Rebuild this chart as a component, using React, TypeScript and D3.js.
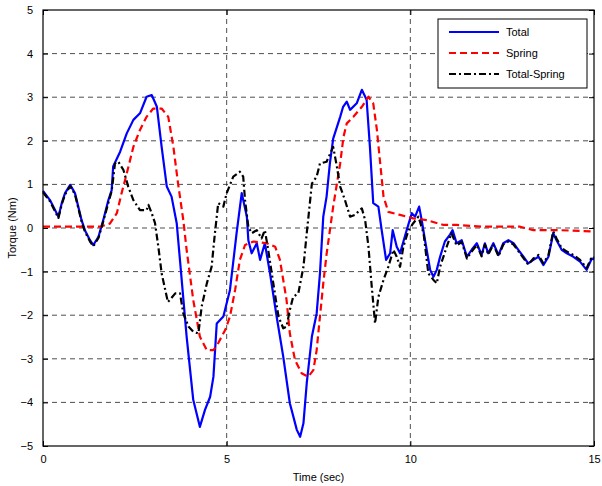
import * as d3 from "d3";
import React, { useEffect, useRef } from "react";

// [time (sec), torque (Nm)]
const totalTorque: [number, number][] = [
  [0, 0.85], [0.19, 0.64], [0.42, 0.26], [0.51, 0.57], [0.6, 0.8], [0.74, 0.99], [0.87, 0.8],
  [0.96, 0.49], [1.05, 0.18], [1.14, -0.05], [1.28, -0.28], [1.37, -0.39], [1.51, -0.2],
  [1.64, 0.18], [1.78, 0.64], [1.87, 0.87], [1.91, 1.41], [2.1, 1.75], [2.28, 2.17],
  [2.46, 2.48], [2.64, 2.63], [2.82, 3.01], [2.96, 3.05], [3.1, 2.78], [3.23, 1.86],
  [3.37, 0.95], [3.5, 0.72], [3.64, 0.11], [3.73, -0.75], [3.91, -2.49], [4.09, -3.94],
  [4.27, -4.56], [4.41, -4.17], [4.55, -3.87], [4.64, -3.41], [4.73, -2.19], [4.91, -2.03],
  [5.09, -1.42], [5.27, -0.12], [5.41, 0.8], [5.55, 0.26], [5.59, -0.28], [5.68, -0.58],
  [5.82, -0.35], [5.91, -0.73], [6.04, -0.35], [6.18, -1.04], [6.36, -2.03], [6.54, -2.95],
  [6.72, -4.02], [6.91, -4.63], [7.0, -4.79], [7.09, -4.48], [7.18, -3.56], [7.32, -2.49],
  [7.45, -1.96], [7.54, -1.04], [7.63, 0.26], [7.72, 0.72], [7.81, 1.48], [7.9, 2.05],
  [8.09, 2.55], [8.17, 2.78], [8.27, 2.9], [8.36, 2.71], [8.54, 2.86], [8.68, 3.17],
  [8.81, 2.94], [8.9, 1.86], [8.99, 0.57], [9.13, 0.49], [9.22, -0.05], [9.34, -0.73],
  [9.45, -0.58], [9.52, -0.05], [9.63, -0.43], [9.72, -0.58], [9.9, -0.05], [10.04, 0.34],
  [10.13, 0.26], [10.24, 0.49], [10.31, 0.18], [10.4, -0.28], [10.54, -0.96], [10.63, -1.12],
  [10.72, -0.96], [10.81, -0.66], [10.94, -0.31], [11.08, -0.15], [11.15, -0.05], [11.26, -0.35],
  [11.4, -0.28], [11.54, -0.66], [11.67, -0.5], [11.81, -0.35], [11.94, -0.62], [12.03, -0.35],
  [12.12, -0.58], [12.26, -0.35], [12.4, -0.62], [12.53, -0.35], [12.67, -0.28], [12.81, -0.35],
  [12.94, -0.5], [13.08, -0.66], [13.21, -0.81], [13.35, -0.73], [13.49, -0.66], [13.62, -0.85],
  [13.76, -0.66], [13.89, -0.12], [13.98, -0.28], [14.12, -0.5], [14.26, -0.58], [14.44, -0.66],
  [14.62, -0.77], [14.8, -0.96], [14.94, -0.7], [15, -0.72],
];

const springTorque: [number, number][] = [
  [0, 0.03], [0.8, 0.03], [1.55, 0.03], [1.82, 0.1], [2.01, 0.34], [2.14, 0.8], [2.28, 1.25],
  [2.46, 1.86], [2.64, 2.25], [2.82, 2.55], [3.0, 2.74], [3.23, 2.74], [3.41, 2.55],
  [3.55, 1.86], [3.68, 1.0], [3.82, 0.18], [3.91, -0.5], [4.09, -1.65], [4.27, -2.49],
  [4.46, -2.8], [4.64, -2.8], [4.77, -2.64], [4.96, -2.34], [5.09, -2.03], [5.23, -1.42],
  [5.36, -0.73], [5.5, -0.39], [5.73, -0.31], [6.09, -0.35], [6.32, -0.43], [6.45, -0.73],
  [6.63, -1.65], [6.72, -2.42], [6.86, -3.03], [7.04, -3.33], [7.22, -3.41], [7.36, -3.26],
  [7.45, -2.8], [7.54, -2.03], [7.63, -1.27], [7.72, -0.6], [7.9, 0.49], [8.09, 1.48],
  [8.18, 2.09], [8.27, 2.4], [8.45, 2.55], [8.68, 2.78], [8.86, 3.01], [8.99, 2.86],
  [9.09, 2.25], [9.18, 1.48], [9.27, 0.72], [9.4, 0.37], [9.72, 0.3], [10.08, 0.22],
  [10.45, 0.18], [10.9, 0.07], [11.26, 0.07], [11.99, 0.03], [12.99, 0.03], [13.35, -0.05],
  [14.08, -0.05], [15, -0.08],
];

const differenceTorque: [number, number][] = [
  [0, 0.82], [0.19, 0.61], [0.42, 0.23], [0.51, 0.54], [0.6, 0.77], [0.74, 0.96], [0.87, 0.77],
  [0.96, 0.46], [1.05, 0.15], [1.14, -0.08], [1.28, -0.31], [1.37, -0.42], [1.51, -0.23],
  [1.64, 0.15], [1.78, 0.58], [1.87, 0.85], [1.96, 1.48], [2.05, 1.52], [2.19, 1.33],
  [2.32, 0.95], [2.46, 0.64], [2.64, 0.41], [2.82, 0.41], [2.87, 0.53], [2.96, 0.34],
  [3.05, 0.11], [3.14, -0.43], [3.23, -1.04], [3.4, -1.7], [3.6, -1.5], [3.73, -1.5],
  [3.82, -1.96], [3.96, -2.26], [4.09, -2.38], [4.23, -2.42], [4.32, -1.8], [4.46, -1.27],
  [4.59, -0.89], [4.68, -0.12], [4.77, 0.57], [4.91, 0.49], [5.0, 0.8], [5.18, 1.18],
  [5.36, 1.29], [5.45, 1.18], [5.5, 0.64], [5.59, 0.03], [5.68, -0.12], [5.82, -0.05],
  [5.95, -0.24], [6.04, -0.05], [6.13, -0.5], [6.27, -1.27], [6.41, -2.03], [6.54, -2.3],
  [6.63, -2.26], [6.72, -1.88], [6.81, -1.58], [6.95, -1.5], [7.09, -0.89], [7.18, -0.12],
  [7.32, 1.02], [7.45, 1.18], [7.54, 1.48], [7.72, 1.52], [7.9, 1.86], [8.0, 1.41],
  [8.09, 0.95], [8.22, 0.64], [8.36, 0.26], [8.49, 0.3], [8.68, 0.45], [8.77, 0.18],
  [8.86, -0.43], [8.95, -1.35], [9.04, -2.19], [9.13, -1.58], [9.27, -1.19], [9.4, -0.89],
  [9.54, -0.5], [9.63, -0.66], [9.72, -0.89], [9.81, -0.43], [9.95, -0.05], [10.08, 0.11],
  [10.22, 0.26], [10.36, -0.12], [10.49, -1.04], [10.63, -1.19], [10.72, -1.27], [10.81, -0.89],
  [10.99, -0.43], [11.12, -0.12], [11.26, -0.4], [11.4, -0.32], [11.54, -0.7], [11.67, -0.54],
  [11.81, -0.39], [11.94, -0.65], [12.03, -0.38], [12.12, -0.61], [12.26, -0.38], [12.4, -0.65],
  [12.53, -0.38], [12.67, -0.31], [12.81, -0.38], [12.94, -0.53], [13.08, -0.69], [13.21, -0.84],
  [13.35, -0.7], [13.49, -0.62], [13.62, -0.81], [13.76, -0.62], [13.89, -0.08], [13.98, -0.24],
  [14.12, -0.46], [14.26, -0.54], [14.44, -0.62], [14.62, -0.73], [14.8, -0.92], [14.94, -0.66],
  [15, -0.68],
];

const xTicks = [0, 5, 10, 15];
const yTicks = [-5, -4, -3, -2, -1, 0, 1, 2, 3, 4, 5];

const seriesNames = ["Total", "Spring", "Total-Spring"];
const seriesColors = ["#0000ff", "#ff0000", "#000000"];
const seriesDashes = ["none", "7,4", "7,3,2,3"];

const WIDTH = 602;
const HEIGHT = 486;
const FONT = "'Liberation Sans', Arial, sans-serif";

const App: React.FC = () => {
  const svgRef = useRef<SVGSVGElement | null>(null);

  useEffect(() => {
    const margin = { top: 10, right: 8, bottom: 40, left: 43 };
    const innerW = WIDTH - margin.left - margin.right;
    const innerH = HEIGHT - margin.top - margin.bottom;

    const svg = d3.select(svgRef.current);
    svg.selectAll("*").remove();

    const g = svg.append("g").attr("transform", `translate(${margin.left},${margin.top})`);

    const x = d3.scaleLinear().domain([0, 15]).range([0, innerW]);
    const y = d3.scaleLinear().domain([-5, 5]).range([innerH, 0]);

    // grid
    g.append("g")
      .selectAll("line")
      .data(yTicks.slice(1, -1))
      .enter()
      .append("line")
      .attr("x1", 0)
      .attr("x2", innerW)
      .attr("y1", (d) => y(d))
      .attr("y2", (d) => y(d))
      .attr("stroke", "#222")
      .attr("stroke-width", 0.8)
      .attr("stroke-dasharray", "5,4");

    g.append("g")
      .selectAll("line")
      .data(xTicks.slice(1, -1))
      .enter()
      .append("line")
      .attr("y1", 0)
      .attr("y2", innerH)
      .attr("x1", (d) => x(d))
      .attr("x2", (d) => x(d))
      .attr("stroke", "#222")
      .attr("stroke-width", 0.8)
      .attr("stroke-dasharray", "5,4");

    // axes with inward ticks on all sides
    const axisStyle = (sel: d3.Selection<SVGGElement, unknown, null, undefined>) => {
      sel.select(".domain").remove();
      sel.selectAll("text").attr("font-family", FONT).attr("font-size", "11px").attr("fill", "#000");
      sel.selectAll("line").attr("stroke", "#000");
    };

    g.append("g")
      .attr("transform", `translate(0,${innerH})`)
      .call(d3.axisBottom(x).tickValues(xTicks).tickSizeInner(-5).tickSizeOuter(0).tickPadding(9).tickFormat(d3.format("d")))
      .call(axisStyle);
    g.append("g")
      .call(d3.axisTop(x).tickValues(xTicks).tickSizeInner(-5).tickSizeOuter(0).tickFormat(() => ""))
      .call(axisStyle);
    g.append("g")
      .call(d3.axisLeft(y).tickValues(yTicks).tickSizeInner(-5).tickSizeOuter(0).tickPadding(10).tickFormat(d3.format("d")))
      .call(axisStyle);
    g.append("g")
      .attr("transform", `translate(${innerW},0)`)
      .call(d3.axisRight(y).tickValues(yTicks).tickSizeInner(-5).tickSizeOuter(0).tickFormat(() => ""))
      .call(axisStyle);

    // lines
    const line = d3
      .line<[number, number]>()
      .x((d) => x(d[0]))
      .y((d) => y(d[1]));

    const data = [totalTorque, springTorque, differenceTorque];
    data.forEach((series, i) => {
      g.append("path")
        .datum(series)
        .attr("fill", "none")
        .attr("stroke", seriesColors[i])
        .attr("stroke-width", 2.2)
        .attr("stroke-linejoin", "round")
        .attr("stroke-dasharray", seriesDashes[i])
        .attr("d", line);
    });

    // frame
    g.append("rect")
      .attr("width", innerW)
      .attr("height", innerH)
      .attr("fill", "none")
      .attr("stroke", "#000")
      .attr("stroke-width", 1.2);

    // axis labels
    svg
      .append("text")
      .attr("x", margin.left + innerW / 2)
      .attr("y", 481)
      .attr("text-anchor", "middle")
      .attr("font-family", FONT)
      .attr("font-size", "11px")
      .text("Time (sec)");

    svg
      .append("text")
      .attr("transform", `translate(16,${margin.top + innerH / 2}) rotate(-90)`)
      .attr("text-anchor", "middle")
      .attr("font-family", FONT)
      .attr("font-size", "11px")
      .text("Torque (Nm)");

    // legend
    const legend = svg.append("g").attr("transform", "translate(438,19)");
    legend
      .append("rect")
      .attr("width", 149)
      .attr("height", 69)
      .attr("fill", "#fff")
      .attr("stroke", "#000")
      .attr("stroke-width", 1);

    seriesNames.forEach((name, i) => {
      const ly = 13 + i * 21;
      legend
        .append("line")
        .attr("x1", 11)
        .attr("x2", 61)
        .attr("y1", ly)
        .attr("y2", ly)
        .attr("stroke", seriesColors[i])
        .attr("stroke-width", 2.2)
        .attr("stroke-dasharray", seriesDashes[i]);
      legend
        .append("text")
        .attr("x", 68)
        .attr("y", ly + 4)
        .attr("font-family", FONT)
        .attr("font-size", "11px")
        .text(name);
    });
  }, []);

  return (
    <svg
      ref={svgRef}
      width={WIDTH}
      height={HEIGHT}
      style={{ position: "absolute", left: 0, top: 0, background: "#fff" }}
    />
  );
};

export default App;
